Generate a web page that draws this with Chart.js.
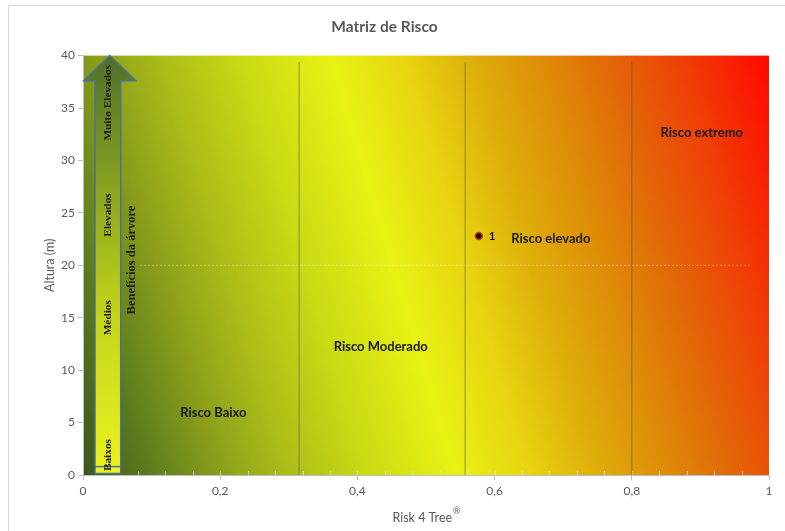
<!DOCTYPE html>
<html>
<head>
<meta charset="utf-8">
<script src="https://cdn.jsdelivr.net/npm/chart.js@4.4.1/dist/chart.umd.min.js"></script>
<style>
  body { margin: 0; background: #fff; }
</style>
</head>
<body>
<canvas id="riskChart" width="785" height="531"></canvas>
<script>
// values
const pointX = [0.577];
const pointY = [22.8];
const pointLabels = ['1'];

const zoneNames = ['Risco Baixo', 'Risco Moderado', 'Risco elevado', 'Risco extremo'];
const zoneLabelX = [0.19, 0.434, 0.682, 0.902];
const zoneLabelY = [5.9, 12.2, 22.5, 32.6];

const zoneBounds = [0.315, 0.557, 0.8];
const boundTop = 39.4;

const refLineY = 20;
const refLineX = [0.083, 0.972];

const benefitLevels = ['Baixos', 'Médios', 'Elevados', 'Muito Elevados'];
const benefitY = [1.9, 15, 24.8, 35.5];
const benefitTitle = 'Benefícios da árvore';

const xTicks = [0, 0.2, 0.4, 0.6, 0.8, 1];
const yTicks = [0, 5, 10, 15, 20, 25, 30, 35, 40];

const tickColor = '#595959';
const fontFamily = 'Lato, "Open Sans", sans-serif';

const boundSets = zoneBounds.map(b => ({
    type: 'line',
    data: [{ x: b, y: 0 }, { x: b, y: boundTop }],
    borderColor: 'rgba(90, 90, 90, 0.6)',
    borderWidth: 1,
    pointRadius: 0,
    order: 3
}));

const refSet = {
    type: 'line',
    data: refLineX.map(x => ({ x: x, y: refLineY })),
    borderColor: 'rgba(255, 255, 255, 0.35)',
    borderWidth: 1,
    borderDash: [2, 2],
    pointRadius: 0,
    order: 3
};

const pointSet = {
    type: 'scatter',
    data: pointX.map((x, i) => ({ x: x, y: pointY[i] })),
    backgroundColor: '#1a0808',
    borderColor: '#c8401a',
    borderWidth: 1.5,
    pointRadius: 3.5,
    order: 1
};

// background gradient, painted before the axes
const backdrop = {
    id: 'backdrop',
    beforeDraw(chart) {
        const { ctx, chartArea: a } = chart;
        ctx.save();
        ctx.strokeStyle = '#d9d9d9';
        ctx.lineWidth = 1;
        ctx.beginPath();
        ctx.moveTo(8.5, 531);
        ctx.lineTo(8.5, 5.5);
        ctx.lineTo(785, 5.5);
        ctx.stroke();

        const w = a.right - a.left, h = a.bottom - a.top;
        const len = Math.hypot(420, 125);
        const dx = 420 / len, dy = -125 / len;
        const corners = [[0, 0], [w, 0], [0, h], [w, h]].map(c => c[0] * dx + c[1] * dy);
        const lo = Math.min(...corners), hi = Math.max(...corners);
        const g = ctx.createLinearGradient(
            a.left + lo * dx, a.top + lo * dy,
            a.left + hi * dx, a.top + hi * dy);
        g.addColorStop(0, '#3a561e');
        g.addColorStop(0.1, '#64841e');
        g.addColorStop(0.17, '#8c9e1a');
        g.addColorStop(0.25, '#aabc18');
        g.addColorStop(0.35, '#cada14');
        g.addColorStop(0.46, '#e8f214');
        g.addColorStop(0.55, '#e8d410');
        g.addColorStop(0.63, '#deb00a');
        g.addColorStop(0.72, '#de8c08');
        g.addColorStop(0.8, '#e26808');
        g.addColorStop(0.88, '#ee4406');
        g.addColorStop(1, '#ff0800');
        ctx.fillStyle = g;
        ctx.fillRect(a.left, a.top, w, h);
        ctx.restore();
    }
};

// arrow, zone names, minor ticks and the x title
const overlay = {
    id: 'overlay',
    beforeDatasetsDraw(chart) {
        const { ctx, chartArea: a } = chart;
        const xs = chart.scales.x, ys = chart.scales.y;
        const X = v => xs.getPixelForValue(v), Y = v => ys.getPixelForValue(v);

        ctx.save();
        // minor ticks inside the plot
        ctx.strokeStyle = 'rgba(225, 225, 225, 0.75)';
        ctx.lineWidth = 1;
        for (let v = 0.08; v < 1; v += 0.04) {
            const px = Math.round(X(v)) + 0.5;
            ctx.beginPath();
            ctx.moveTo(px, a.bottom);
            ctx.lineTo(px, a.bottom - 4);
            ctx.stroke();
        }

        // benefits arrow
        const sL = X(0.0175), sR = X(0.055), hL = X(0.001), hR = X(0.077), tip = X(0.039);
        const bottom = Y(0.15), neck = Y(37.6), top = Y(40);
        const fill = ctx.createLinearGradient(0, top, 0, bottom);
        fill.addColorStop(0, '#50702a');
        fill.addColorStop(0.3, '#86a020');
        fill.addColorStop(0.62, '#c4d41a');
        fill.addColorStop(1, '#eaf21e');
        ctx.beginPath();
        ctx.moveTo(sL, bottom);
        ctx.lineTo(sL, neck);
        ctx.lineTo(hL, neck);
        ctx.lineTo(tip, top);
        ctx.lineTo(hR, neck);
        ctx.lineTo(sR, neck);
        ctx.lineTo(sR, bottom);
        ctx.closePath();
        ctx.fillStyle = fill;
        ctx.fill();
        ctx.strokeStyle = '#4d7195';
        ctx.lineWidth = 1.5;
        ctx.stroke();
        ctx.beginPath();
        ctx.moveTo(sL, Y(0.8));
        ctx.lineTo(sR, Y(0.8));
        ctx.stroke();

        ctx.fillStyle = '#1e1e14';
        ctx.textAlign = 'center';
        ctx.textBaseline = 'middle';
        ctx.font = 'bold 11.3px "Liberation Serif", serif';
        benefitLevels.forEach((t, i) => {
            ctx.save();
            ctx.translate(X(0.0365), Y(benefitY[i]));
            ctx.rotate(-Math.PI / 2);
            ctx.fillText(t, 0, 0);
            ctx.restore();
        });
        ctx.font = 'bold 12.5px "Liberation Serif", serif';
        ctx.save();
        ctx.translate(X(0.071), Y(20.5));
        ctx.rotate(-Math.PI / 2);
        ctx.fillText(benefitTitle, 0, 0);
        ctx.restore();

        // zone names
        ctx.fillStyle = '#1a1a1a';
        ctx.font = 'bold 13px ' + fontFamily;
        zoneNames.forEach((t, i) => ctx.fillText(t, X(zoneLabelX[i]), Y(zoneLabelY[i])));
        ctx.restore();
    },
    afterDatasetsDraw(chart) {
        const { ctx, chartArea: a } = chart;
        const xs = chart.scales.x, ys = chart.scales.y;
        ctx.save();
        ctx.fillStyle = '#1a1a1a';
        ctx.font = 'bold 11.5px ' + fontFamily;
        ctx.textAlign = 'left';
        ctx.textBaseline = 'middle';
        pointLabels.forEach((t, i) => {
            ctx.fillText(t, xs.getPixelForValue(pointX[i]) + 10, ys.getPixelForValue(pointY[i]) + 0.5);
        });

        // x axis title with superscript mark
        const main = 'Risk 4 Tree', sup = '®';
        ctx.fillStyle = tickColor;
        ctx.font = '12.5px ' + fontFamily;
        const w1 = ctx.measureText(main).width;
        ctx.font = '9px ' + fontFamily;
        const w2 = ctx.measureText(sup).width;
        const cx = (a.left + a.right) / 2, x0 = cx - (w1 + w2) / 2;
        ctx.font = '12.5px ' + fontFamily;
        ctx.fillText(main, x0, 518);
        ctx.font = '9px ' + fontFamily;
        ctx.fillText(sup, x0 + w1 + 1, 511);
        ctx.restore();
    }
};

new Chart(document.getElementById('riskChart').getContext('2d'), {
    type: 'scatter',
    data: {
        datasets: [...boundSets, refSet, pointSet]
    },
    options: {
        responsive: false,
        devicePixelRatio: 1,
        animation: false,
        layout: { padding: { top: 4, right: 16, bottom: 0, left: 0 } },
        plugins: {
            legend: { display: false },
            tooltip: { enabled: false },
            title: {
                display: true,
                text: 'Matriz de Risco',
                color: tickColor,
                font: { family: fontFamily, size: 15.5, weight: 'bold', lineHeight: 1.2 },
                padding: { top: 14, bottom: 19 }
            }
        },
        scales: {
            x: {
                type: 'linear',
                min: 0,
                max: 1,
                afterBuildTicks: s => { s.ticks = xTicks.map(v => ({ value: v })); },
                afterFit: s => { s.height = 56; },
                ticks: {
                    color: tickColor,
                    padding: 4,
                    font: { family: fontFamily, size: 12 },
                    callback: v => String(v).replace('.', ',')
                },
                grid: { drawOnChartArea: false, drawTicks: true, tickLength: 5, color: '#bfbfbf' },
                border: { display: true, color: '#bfbfbf' }
            },
            y: {
                type: 'linear',
                min: 0,
                max: 40,
                afterBuildTicks: s => { s.ticks = yTicks.map(v => ({ value: v })); },
                afterFit: s => { s.width = 83; },
                ticks: {
                    color: tickColor,
                    padding: 3,
                    font: { family: fontFamily, size: 12 }
                },
                title: {
                    display: true,
                    text: 'Altura (m)',
                    color: tickColor,
                    font: { family: fontFamily, size: 12.5 },
                    padding: { top: 42, bottom: 0 }
                },
                grid: { drawOnChartArea: false, drawTicks: true, tickLength: 5, color: '#bfbfbf' },
                border: { display: true, color: '#bfbfbf' }
            }
        }
    },
    plugins: [backdrop, overlay]
});
</script>
</body>
</html>
